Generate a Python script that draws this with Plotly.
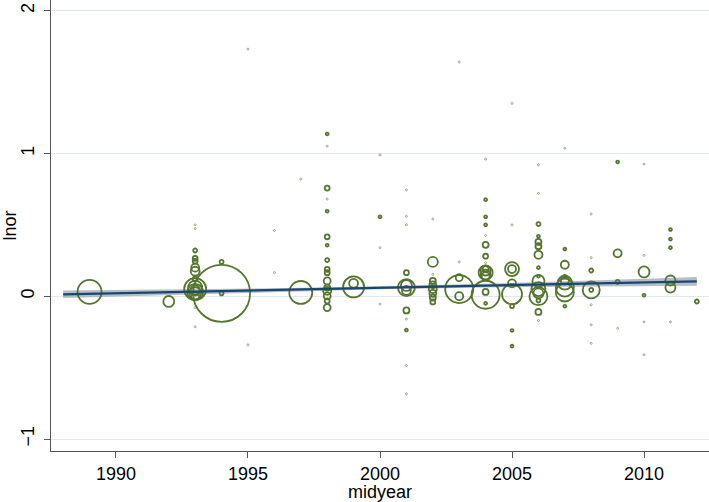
import numpy as np
import plotly.graph_objects as go

# ---- data ----
years = [
    1989,
    1992,
    1993, 1993, 1993, 1993, 1993, 1993, 1993, 1993, 1993, 1993, 1993, 1993, 1993, 1993, 1993, 1993,
    1994, 1994, 1994,
    1995, 1995,
    1996, 1996,
    1997, 1997,
    1998, 1998, 1998, 1998, 1998, 1998, 1998, 1998, 1998, 1998, 1998, 1998, 1998, 1998, 1998, 1998,
    1999, 1999,
    2000, 2000, 2000, 2000,
    2001, 2001, 2001, 2001, 2001, 2001, 2001, 2001, 2001, 2001, 2001, 2001,
    2002, 2002, 2002, 2002, 2002, 2002, 2002, 2002, 2002,
    2003, 2003, 2003, 2003, 2003,
    2004, 2004, 2004, 2004, 2004, 2004, 2004, 2004, 2004, 2004, 2004, 2004, 2004, 2004, 2004, 2004,
    2005, 2005, 2005, 2005, 2005, 2005, 2005, 2005, 2005,
    2006, 2006, 2006, 2006, 2006, 2006, 2006, 2006, 2006, 2006, 2006, 2006, 2006, 2006, 2006, 2006,
    2007, 2007, 2007, 2007, 2007, 2007, 2007, 2007, 2007,
    2008, 2008, 2008, 2008, 2008, 2008, 2008, 2008,
    2009, 2009, 2009, 2009,
    2010, 2010, 2010, 2010, 2010, 2010,
    2011, 2011, 2011, 2011, 2011, 2011,
    2012,
]
lnor = [
    0.03,
    -0.037,
    0.50, 0.474, 0.32, 0.265, 0.245, 0.20, 0.175, 0.12, 0.05, 0.03, 0.06, 0.02, 0.04, 0.0, -0.08, -0.214,
    0.02, 0.24, 0.02,
    1.73, -0.34,
    0.46, 0.165,
    0.026, 0.82,
    1.136, 1.05, 0.757, 0.68, 0.595, 0.416, 0.357, 0.253, 0.188, 0.165, 0.107, 0.06, 0.037, 0.002, -0.033, -0.08,
    0.065, 0.09,
    0.99, 0.555, 0.34, -0.055,
    0.745, 0.56, 0.50, 0.165, 0.06, 0.075, 0.04, -0.10, -0.16, -0.237, -0.486, -0.683,
    0.54, 0.24, 0.153, 0.107, 0.08, 0.05, 0.02, -0.01, -0.04,
    1.64, 0.24, 0.05, 0.13, 0.0,
    0.96, 0.676, 0.556, 0.50, 0.425, 0.36, 0.28, 0.235, 0.165, 0.18, 0.15, 0.14, 0.19, 0.01, 0.03, -0.05,
    1.35, 0.50, 0.19, 0.19, 0.09, 0.014, -0.07, -0.24, -0.35,
    0.92, 0.72, 0.505, 0.42, 0.38, 0.35, 0.29, 0.20, 0.14, 0.107, 0.05, 0.0, 0.02, -0.03, -0.11, -0.17,
    1.036, 0.33, 0.22, 0.14, 0.11, 0.095, 0.06, 0.026, -0.07,
    0.576, 0.27, 0.18, 0.044, 0.044, -0.06, -0.2, -0.33,
    0.94, 0.30, 0.10, -0.225,
    0.925, 0.286, 0.17, 0.007, -0.18, -0.41,
    0.467, 0.40, 0.34, 0.11, 0.06, -0.18,
    -0.037,
]
weights = [
    144,
    30,
    1, 1, 4, 6, 6, 16, 20, 6, 121, 64, 49, 36, 25, 16, 1, 1,
    812, 4, 4,
    1, 1,
    1, 1,
    132, 1,
    2, 1, 6, 1, 2, 6, 2, 4, 6, 6, 12, 9, 16, 12, 6, 12,
    110, 20,
    1, 2, 1, 1,
    1, 1, 1, 6, 72, 30, 20, 9, 1, 2, 1, 1,
    1, 25, 1, 9, 12, 16, 12, 9, 6,
    1, 1, 196, 12, 16,
    1, 2, 2, 2, 1, 9, 6, 1, 49, 25, 25, 16, 9, 196, 9, 2,
    1, 1, 49, 16, 16, 100, 4, 2, 2,
    1, 1, 4, 2, 9, 9, 16, 2, 2, 36, 49, 81, 25, 4, 9, 1,
    1, 2, 16, 2, 16, 49, 81, 81, 2,
    1, 1, 4, 72, 4, 1, 1, 1,
    2, 16, 4, 1,
    1, 1, 30, 2, 1, 1,
    2, 2, 2, 25, 25, 1,
    4,
]

# linear fit with 95% CI
fit_x = [1988, 1992, 1996, 2000, 2004, 2008, 2012]
fit_y = [0.013, 0.028, 0.043, 0.059, 0.074, 0.089, 0.104]
ci_lo = [-0.013, 0.009, 0.030, 0.048, 0.061, 0.068, 0.073]
ci_hi = [0.039, 0.047, 0.056, 0.070, 0.087, 0.110, 0.135]

x_ticks = [1990, 1995, 2000, 2005, 2010]
y_ticks = [-1, 0, 1, 2]

GREEN = "#55752f"
NAVY = "#1a476f"

w = np.array(weights, dtype=float)
diam = 2.0 * np.sqrt(w)
lw = np.where(w <= 1, 1.0, 1.8)
op = np.where(w <= 1, 0.55, 1.0)

fig = go.Figure()
fig.add_trace(go.Scatter(x=fit_x, y=ci_hi, mode="lines", line=dict(width=0),
                         hoverinfo="skip", showlegend=False))
fig.add_trace(go.Scatter(x=fit_x, y=ci_lo, mode="lines", line=dict(width=0),
                         fill="tonexty", fillcolor="rgba(165,172,184,0.8)",
                         hoverinfo="skip", showlegend=False))
fig.add_trace(go.Scatter(
    x=years, y=lnor, mode="markers", showlegend=False,
    marker=dict(symbol="circle-open", size=diam, sizemode="diameter",
                color=GREEN, opacity=op,
                line=dict(color=GREEN, width=lw)),
))
fig.add_trace(go.Scatter(x=fit_x, y=fit_y, mode="lines",
                         line=dict(color=NAVY, width=2.2), showlegend=False))

font = dict(family="Liberation Sans, Arial, sans-serif", size=18, color="#000")
fig.update_layout(
    width=709, height=502,
    margin=dict(l=51, r=0, t=0, b=51, autoexpand=False),
    paper_bgcolor="white", plot_bgcolor="white",
    font=font,
    xaxis=dict(range=[1987.54, 2012.46], tickvals=x_ticks, showgrid=False,
               zeroline=False, showline=True, linecolor="#555", linewidth=1,
               ticks="outside", ticklen=6, tickcolor="#555", automargin=False,
               title=dict(text="midyear", standoff=0, font=font)),
    yaxis=dict(range=[-1.084, 2.074], tickvals=y_ticks, showgrid=True,
               gridcolor="#dfeaec", gridwidth=1, zeroline=False,
               showline=True, linecolor="#555", linewidth=1,
               ticks="outside", ticklen=6, tickcolor="#555", tickangle=-90,
               automargin=False, ticklabelstandoff=3,
               title=dict(text="lnor", standoff=4, font=font)),
)
fig.write_html("out.html", config={"displayModeBar": False},
               post_script="document.body.style.margin='0';")
